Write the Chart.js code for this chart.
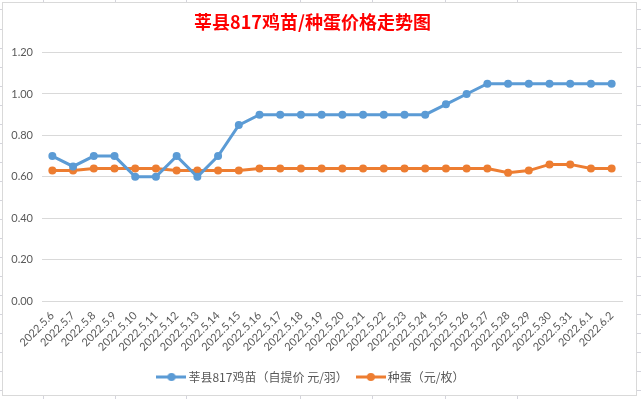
<!DOCTYPE html>
<html>
<head>
<meta charset="utf-8">
<script src="https://cdn.jsdelivr.net/npm/chart.js@4.4.1/dist/chart.umd.min.js"></script>
<style>
  html, body { margin: 0; padding: 0; background: #fff; }
  #wrap {
    position: relative; width: 641px; height: 399px; overflow: hidden;
    background:
      repeating-linear-gradient(to bottom, transparent 0, transparent 9.5px, #d4d4dc 9.5px, #d4d4dc 10.5px, transparent 10.5px, transparent 19.05px),
      #fff;
  }
  .col { position: absolute; top: 0; width: 1px; height: 399px; background: #d4d4dc; }
  canvas { position: absolute; left: 0; top: 0; }
</style>
</head>
<body>
<div id="wrap">
  <div class="col" style="left:43px"></div>
  <div class="col" style="left:115px"></div>
  <div class="col" style="left:186px"></div>
  <div class="col" style="left:300px"></div>
  <div class="col" style="left:372px"></div>
  <div class="col" style="left:445px"></div>
  <div class="col" style="left:517px"></div>
  <canvas id="chart" width="641" height="399"></canvas>
</div>
<script>
'use strict'

// ************* Data ****************
let dates = ['2022.5.6', '2022.5.7', '2022.5.8', '2022.5.9', '2022.5.10', '2022.5.11', '2022.5.12',
  '2022.5.13', '2022.5.14', '2022.5.15', '2022.5.16', '2022.5.17', '2022.5.18', '2022.5.19',
  '2022.5.20', '2022.5.21', '2022.5.22', '2022.5.23', '2022.5.24', '2022.5.25', '2022.5.26',
  '2022.5.27', '2022.5.28', '2022.5.29', '2022.5.30', '2022.5.31', '2022.6.1', '2022.6.2'];

let chickPrice = [0.70, 0.65, 0.70, 0.70, 0.60, 0.60, 0.70, 0.60, 0.70, 0.85,
  0.90, 0.90, 0.90, 0.90, 0.90, 0.90, 0.90, 0.90, 0.90, 0.95, 1.00,
  1.05, 1.05, 1.05, 1.05, 1.05, 1.05, 1.05];

let eggPrice = [0.63, 0.63, 0.64, 0.64, 0.64, 0.64, 0.63, 0.63, 0.63, 0.63,
  0.64, 0.64, 0.64, 0.64, 0.64, 0.64, 0.64, 0.64, 0.64, 0.64, 0.64, 0.64,
  0.62, 0.63, 0.66, 0.66, 0.64, 0.64];

let yTicks = [0, 0.2, 0.4, 0.6, 0.8, 1.0, 1.2];

let seriesNames = ['莘县817鸡苗（自提价 元/羽）', '种蛋（元/枚）'];
let titleText = '莘县817鸡苗/种蛋价格走势图';

// ************* Colours / fonts ****************
let blue = '#5b9bd5';
let orange = '#ed7d31';
let gray = '#595959';
let gridColor = '#d9d9d9';
let latin = 'Lato, "Noto Sans CJK SC", sans-serif';
let cjk = '"Noto Sans CJK SC", "Noto Sans", sans-serif';

// legend icon: short line with a dot in the middle, like Excel
function legendIcon(color) {
  let c = document.createElement('canvas');
  c.width = 30;
  c.height = 10;
  let ctx = c.getContext('2d');
  ctx.strokeStyle = color;
  ctx.lineWidth = 3;
  ctx.beginPath();
  ctx.moveTo(0, 5);
  ctx.lineTo(30, 5);
  ctx.stroke();
  ctx.fillStyle = color;
  ctx.beginPath();
  ctx.arc(15, 5, 4, 0, Math.PI * 2);
  ctx.fill();
  return c;
}

// white chart box with thin border
let boxPlugin = {
  id: 'box',
  beforeDraw(chart) {
    let ctx = chart.ctx;
    ctx.save();
    ctx.fillStyle = '#fff';
    ctx.fillRect(3, 3, 634, 393);
    ctx.strokeStyle = '#d9d9d9';
    ctx.lineWidth = 1;
    ctx.strokeRect(2.5, 2.5, 634, 393);
    ctx.restore();
  }
};

// ************* Chart ****************
let chartEl = document.getElementById('chart');

let myChart = new Chart(chartEl, {
  type: 'line',
  data: {
    labels: dates,
    datasets: [{
      label: seriesNames[0],
      data: chickPrice,
      borderColor: blue,
      backgroundColor: blue,
      borderWidth: 3,
      pointRadius: 4,
      pointHoverRadius: 4,
      pointBorderWidth: 0,
      tension: 0
    }, {
      label: seriesNames[1],
      data: eggPrice,
      borderColor: orange,
      backgroundColor: orange,
      borderWidth: 3,
      pointRadius: 4,
      pointHoverRadius: 4,
      pointBorderWidth: 0,
      tension: 0
    }]
  },
  options: {
    responsive: false,
    animation: false,
    devicePixelRatio: 1,
    layout: {
      padding: { left: 3, right: 19, top: 3, bottom: 6 }
    },
    plugins: {
      title: {
        display: true,
        text: titleText,
        color: '#ff0000',
        font: { family: cjk, size: 18, weight: 'bold', lineHeight: 1.2 },
        padding: { top: 8, bottom: 20 }
      },
      legend: {
        position: 'bottom',
        labels: {
          color: gray,
          font: { family: cjk, size: 12 },
          usePointStyle: true,
          pointStyleWidth: 22,
          boxHeight: 10,
          padding: 12,
          generateLabels(chart) {
            let items = Chart.defaults.plugins.legend.labels.generateLabels(chart);
            items.forEach((it, i) => {
              it.pointStyle = legendIcon(i === 0 ? blue : orange);
            });
            return items;
          }
        }
      },
      tooltip: { enabled: false }
    },
    scales: {
      x: {
        offset: true,
        grid: { display: false, drawTicks: false },
        border: { display: true, color: gridColor, width: 1 },
        ticks: {
          color: gray,
          font: { family: latin, size: 11 },
          maxRotation: 45,
          minRotation: 45,
          autoSkip: false,
          padding: 8
        },
        afterFit(scale) {
          scale.height = 58;
        }
      },
      y: {
        min: 0,
        max: 1.2,
        afterBuildTicks(scale) {
          scale.ticks = yTicks.map(v => ({ value: v }));
        },
        grid: { color: gridColor, lineWidth: 1, drawTicks: false },
        border: { display: false },
        ticks: {
          color: gray,
          font: { family: latin, size: 11 },
          padding: 9,
          callback: v => Number(v).toFixed(2)
        },
        afterFit(scale) {
          scale.width = 39;
        }
      }
    }
  },
  plugins: [boxPlugin]
});
</script>
</body>
</html>
